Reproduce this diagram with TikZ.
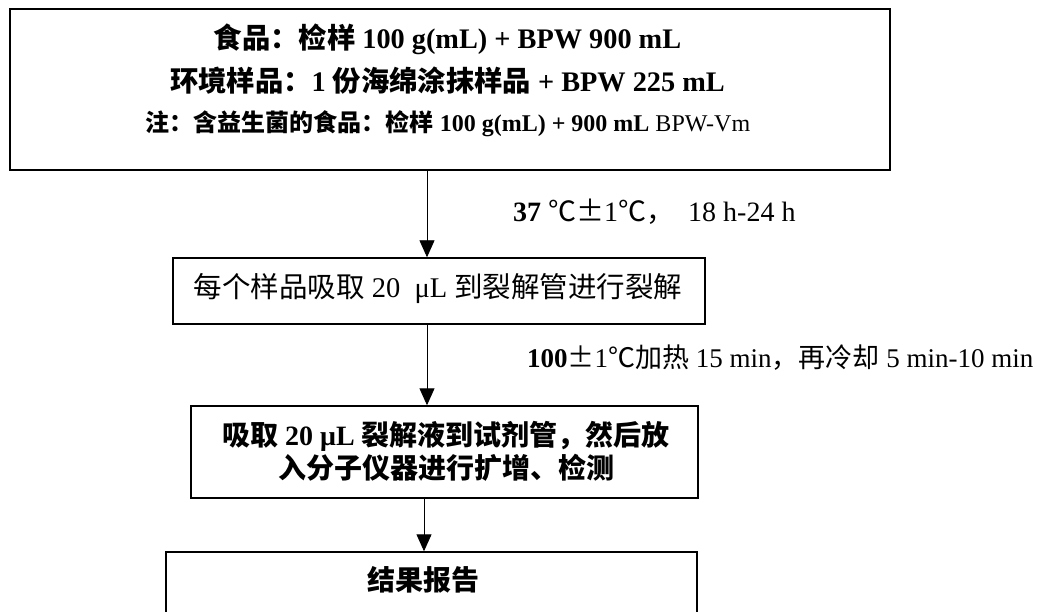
\documentclass[tikz,border=0pt]{standalone}
\usepackage{fontspec}
\setmainfont{Liberation Serif}
\newfontfamily\cjk{Noto Sans CJK SC}
\usetikzlibrary{arrows.meta}
\begin{document}
\begin{tikzpicture}[x=1pt,y=-1pt,
  box/.style={draw, line width=1.4pt, inner sep=0pt},
  arr/.style={-{Triangle[width=15pt,length=17pt]}, line width=0.9pt},
  txt/.style={inner sep=0pt, anchor=base, font=\fontsize{28}{33}\selectfont},
  lbl/.style={inner sep=0pt, anchor=base west, font=\fontsize{27}{32}\selectfont}]
\clip (0,0) rectangle (1062,612);
\fill[white] (0,0) rectangle (1062,612);
% boxes
\node[box, minimum width=880pt, minimum height=161pt] (b1) at (450,89.5) {};
\node[box, minimum width=532pt, minimum height=66pt] (b2) at (439,291) {};
\node[box, minimum width=507pt, minimum height=92pt] (b3) at (444.5,452) {};
\node[box, minimum width=531pt, minimum height=88pt] (b4) at (431.5,596) {};
% texts
\node[txt, font=\fontsize{28.3}{33}\selectfont] (t11) at (447.5,49) {{\cjk\bfseries 食品：检样} \textbf{100 g(mL) + BPW 900 mL}};
\node[txt, font=\fontsize{28.3}{33}\selectfont] (t12) at (447.5,92) {{\cjk\bfseries 环境样品：}\textbf{1 }{\cjk\bfseries 份海绵涂抹样品} \textbf{+ BPW 225 mL}};
\node[txt, font=\fontsize{24}{28}\selectfont] (t13) at (448,132) {{\cjk\bfseries 注：含益生菌的食品：检样} \textbf{100 g(mL) + 900 mL} BPW-Vm};
\node[txt, font=\fontsize{28.5}{33}\selectfont] (t2) at (438,297) {{\cjk 每个样品吸取} 20\ \ μL {\cjk 到裂解管进行裂解}};
\node[txt] (t31) at (446,445) {{\cjk\bfseries 吸取} \textbf{20 μL} {\cjk\bfseries 裂解液到试剂管，然后放}};
\node[txt] (t32) at (446,478) {{\cjk\bfseries 入分子仪器进行扩增、检测}};
\node[txt] (t4) at (423,590) {{\cjk\bfseries 结果报告}};
% arrows
\draw[arr] (b1.south -| 427,0) -- (b2.north -| 427,0);
\draw[arr] (b2.south -| 427,0) -- (b3.north -| 427,0);
\draw[arr] (b3.south -| 424,0) -- (b4.north -| 424,0);
% labels
\node[lbl, font=\fontsize{28}{32}\selectfont] (l1) at (513,222) {\textbf{37} {\cjk ℃±}1{\cjk ℃，}\ \ 18 h-24 h};
\node[lbl] (l2) at (527,367) {\textbf{100}{\cjk ±}1{\cjk ℃加热} 15 min{\cjk ，再冷却} 5 min-10 min};
\end{tikzpicture}
\end{document}
